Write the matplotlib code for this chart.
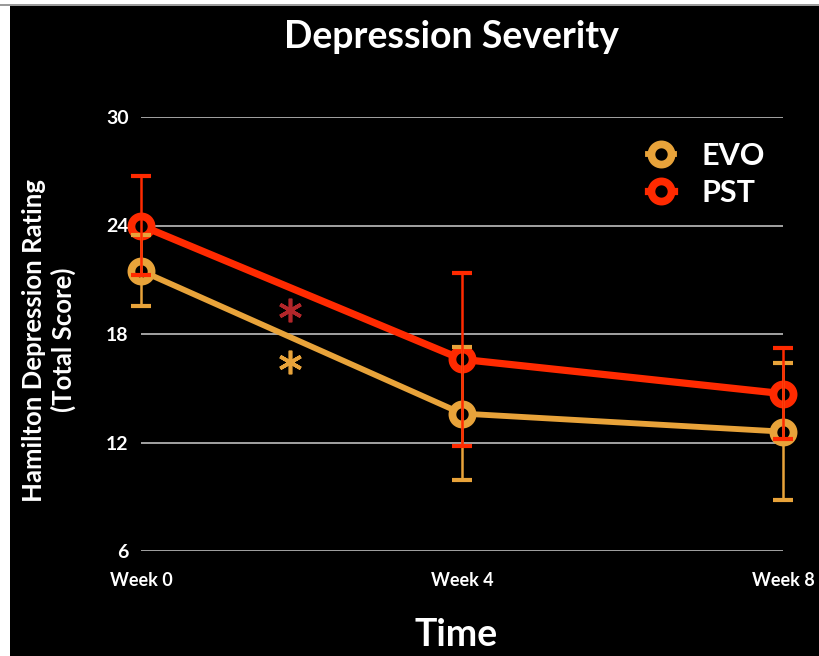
import numpy as np
import matplotlib
matplotlib.use("Agg")
from matplotlib import pyplot as plt
from matplotlib.patches import Rectangle

plt.rcParams['font.family'] = ['Lato', 'DejaVu Sans']

weeks = [0, 4, 8]
week_labels = ["Week 0", "Week 4", "Week 8"]
evo_mean = [21.5, 13.6, 12.6]
evo_err = [1.95, 3.7, 3.8]
pst_mean = [24.0, 16.6, 14.7]
pst_err = [2.75, 4.8, 2.5]
sig_x = [1.86, 1.86]
sig_y = [19.3, 16.45]
sig_colors = ["#b3262a", "#e8a33a"]

evo_c = "#e8a33a"
pst_c = "#ff2a00"

fig = plt.figure(figsize=(8.2, 6.56), dpi=100, facecolor="white")
# black slide background with thin frame like the screenshot
fig.patches.append(Rectangle((10/820, 0), 1, 1 - 6/656, transform=fig.transFigure,
                             facecolor="black", edgecolor="none", zorder=-10))
fig.patches.append(Rectangle((0, 1 - 6/656), 1, 1.5/656, transform=fig.transFigure,
                             facecolor="#9a9a9a", edgecolor="none", zorder=-9))

ax = fig.add_axes([141/820, 1 - 551/656, 642/820, 434/656])
ax.set_facecolor("black")
ax.set_xlim(0, 8)
ax.set_ylim(6, 30)
ax.set_yticks([6, 12, 18, 24, 30])
ax.set_xticks(weeks)
ax.set_xticklabels(week_labels)
ax.grid(axis="y", color="#b0b0b0", lw=1.3)
ax.set_axisbelow(True)
for s in ax.spines.values():
    s.set_visible(False)
ax.tick_params(axis="y", length=0, pad=9, labelsize=14, labelcolor="white")
ax.tick_params(axis="x", length=0, pad=15, labelsize=13, labelcolor="white")
for lab in ax.get_xticklabels() + ax.get_yticklabels():
    lab.set_fontweight("bold")

ax.plot(weeks, evo_mean, color=evo_c, lw=4.2, marker="o", ms=14.5, mfc="black",
        mec=evo_c, mew=5.6, clip_on=False, zorder=3, label="EVO")
ax.plot(weeks, pst_mean, color=pst_c, lw=5.2, marker="o", ms=14.5, mfc="black",
        mec=pst_c, mew=5.6, clip_on=False, zorder=4, label="PST")
eb1 = ax.errorbar(weeks, evo_mean, yerr=evo_err, fmt="none", ecolor=evo_c, elinewidth=1.8,
                  capsize=7, capthick=3, zorder=5)
eb2 = ax.errorbar(weeks, pst_mean, yerr=pst_err, fmt="none", ecolor=pst_c, elinewidth=1.8,
                  capsize=7, capthick=3, zorder=6)
for eb in (eb1, eb2):
    for art in eb.lines[1] + eb.lines[2]:
        art.set_clip_on(False)

for x, y, c in zip(sig_x, sig_y, sig_colors):
    ax.plot(x, y, marker=(6, 2, 0), ms=17, mew=2.6, color=c, ls="none", zorder=5)

leg = ax.legend(loc="upper right", bbox_to_anchor=(1.0, 0.985), frameon=False,
                prop={"size": 22, "weight": "bold"}, handlelength=0.85,
                handletextpad=0.9, labelspacing=0.3, labelcolor="white", borderaxespad=0.2)

fig.text(451/820, 1 - 37/656, "Depression Severity", color="white", fontsize=27,
         fontweight="bold", ha="center", va="center")
fig.text(456/820, 1 - 635/656, "Time", color="white", fontsize=27,
         fontweight="bold", ha="center", va="center")
fig.text(49/820, 1 - 340/656, "Hamilton Depression Rating\n(Total Score)", color="white",
         fontsize=18.5, fontweight="bold", ha="center", va="center", rotation=90,
         linespacing=1.2)

fig.savefig("out.png", dpi=100, facecolor=fig.get_facecolor())
